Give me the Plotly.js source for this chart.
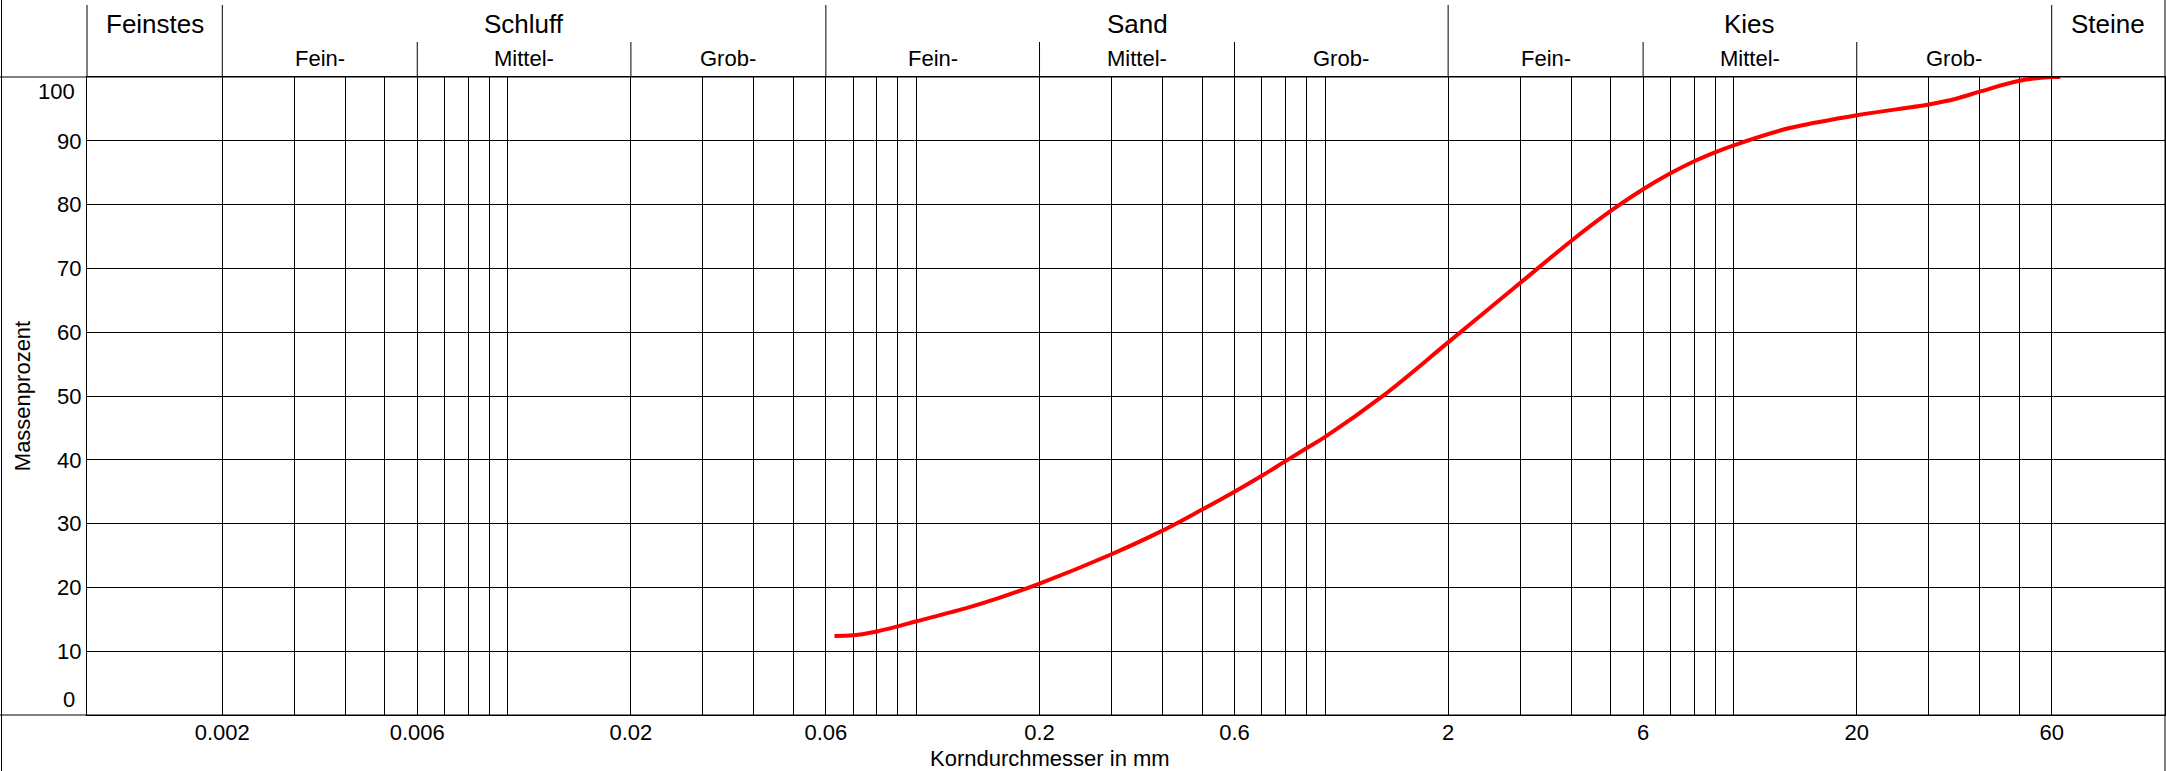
<!DOCTYPE html>
<html>
<head>
<meta charset="utf-8">
<script src="https://cdn.plot.ly/plotly-3.0.1.min.js"></script>
<style>
  html, body { margin: 0; padding: 0; background: #fff; }
  #chart { width: 2166px; height: 771px; }
</style>
</head>
<body>
<div id="chart"></div>
<script>
// ---- data ----
const grainSize = [0.063, 0.07, 0.08, 0.09, 0.1, 0.133, 0.16, 0.2, 0.3, 0.4, 0.5, 0.6, 0.7, 0.8, 0.9, 1.0, 1.39, 2, 3, 4, 5, 6, 7, 8, 9, 10, 13.7, 20, 30, 35, 40, 50, 60, 63];
const massPercent = [12.4, 12.5, 13.1, 13.9, 14.7, 16.8, 18.4, 20.6, 25.2, 28.9, 32.2, 35.0, 37.5, 39.8, 41.8, 43.6, 50.1, 58.4, 67.7, 74.3, 79.0, 82.4, 84.9, 86.8, 88.2, 89.3, 92.0, 94.0, 95.7, 96.6, 97.7, 99.4, 100, 100];

const xTickVals = [0.002, 0.006, 0.02, 0.06, 0.2, 0.6, 2, 6, 20, 60];
const xTickText = ['0.002', '0.006', '0.02', '0.06', '0.2', '0.6', '2', '6', '20', '60'];
const xMinorVals = [0.003, 0.004, 0.005, 0.007, 0.008, 0.009, 0.01,
                    0.03, 0.04, 0.05, 0.07, 0.08, 0.09, 0.1,
                    0.3, 0.4, 0.5, 0.7, 0.8, 0.9, 1,
                    3, 4, 5, 7, 8, 9, 10,
                    30, 40, 50];
const yTickVals = [10, 20, 30, 40, 50, 60, 70, 80, 90];
const yTickText = ['10', '20', '30', '40', '50', '60', '70', '80', '90'];
const yEndLabels = ['0', '100'];
const xTitle = 'Korndurchmesser in mm';
const yTitle = 'Massenprozent';

const mainClasses = ['Feinstes', 'Schluff', 'Sand', 'Kies', 'Steine'];
const mainBounds = [0.002, 0.06, 2, 60];
const subClasses = ['Fein-', 'Mittel-', 'Grob-'];
const subGroups = [[0.002, 0.006, 0.02, 0.06], [0.06, 0.2, 0.6, 2], [2, 6, 20, 60]];

// ---- layout helpers ----
const W = 2166, H = 771;
const M = {l: 87, r: 1, t: 77, b: 56};
const plotW = W - M.l - M.r, plotH = H - M.t - M.b;
const xRange = [-3.03009, 2.0554];
const FONT = 'Liberation Sans, Arial, sans-serif';
const py = px => 1 + (M.t - px) / plotH;          // header pixel y -> paper y
const pyb = px => -(px - (H - M.b)) / plotH;       // below-plot pixel y -> paper y
const pxp = px => (px - M.l) / plotW;             // pixel x -> paper x

const shapes = [];
const line = {color: '#000', width: 1};
// outer frame
shapes.push({type: 'line', xref: 'paper', yref: 'paper', x0: pxp(0), x1: 1, y0: 1, y1: 1, line});
shapes.push({type: 'line', xref: 'paper', yref: 'paper', x0: pxp(0), x1: 1, y0: 0, y1: 0, line});
shapes.push({type: 'line', xref: 'paper', yref: 'paper', x0: pxp(1.5), x1: pxp(1.5), y0: pyb(H), y1: py(0), line});
shapes.push({type: 'line', xref: 'paper', yref: 'paper', x0: 1, x1: 1, y0: pyb(H), y1: py(0), line});
shapes.push({type: 'line', xref: 'paper', yref: 'paper', x0: 0, x1: 0, y0: 1, y1: py(5), line});
// header separators
mainBounds.forEach(b => shapes.push({type: 'line', xref: 'x', yref: 'paper', x0: b, x1: b, y0: 1, y1: py(5), line}));
subGroups.forEach(g => g.slice(1, -1).forEach(b =>
  shapes.push({type: 'line', xref: 'x', yref: 'paper', x0: b, x1: b, y0: 1, y1: py(42), line})));

const annotations = [];
const lg = Math.log10;
const mainEdges = [xRange[0]].concat(mainBounds.map(lg)).concat([xRange[1]]);
mainClasses.forEach((name, i) => annotations.push({
  text: name, xref: 'x', yref: 'paper', x: (mainEdges[i] + mainEdges[i + 1]) / 2, y: py(24),
  xanchor: 'center', yanchor: 'middle', showarrow: false, font: {family: FONT, size: 26, color: '#000'}
}));
subGroups.forEach(g => subClasses.forEach((name, i) => annotations.push({
  text: name, xref: 'x', yref: 'paper', x: (lg(g[i]) + lg(g[i + 1])) / 2, y: py(58),
  xanchor: 'center', yanchor: 'middle', showarrow: false, font: {family: FONT, size: 22, color: '#000'}
})));
annotations.push({text: yEndLabels[0], xref: 'paper', yref: 'y', x: pxp(77), y: 0, yshift: 16,
  xanchor: 'right', yanchor: 'middle', showarrow: false, font: {family: FONT, size: 22, color: '#000'}});
annotations.push({text: yEndLabels[1], xref: 'paper', yref: 'y', x: pxp(77), y: 100, yshift: -14,
  xanchor: 'right', yanchor: 'middle', showarrow: false, font: {family: FONT, size: 22, color: '#000'}});
// x-axis title (placed as in the reference, left of the plot centre)
annotations.push({text: xTitle, xref: 'paper', yref: 'paper', x: pxp(1050), y: pyb(758),
  xanchor: 'center', yanchor: 'middle', showarrow: false, font: {family: FONT, size: 22, color: '#000'}});

const trace = {
  x: grainSize, y: massPercent, type: 'scatter', mode: 'lines',
  line: {color: '#ff0000', width: 4, shape: 'spline', smoothing: 1.0},
  hoverinfo: 'x+y'
};

const layout = {
  width: W, height: H, margin: M,
  paper_bgcolor: '#fff', plot_bgcolor: '#fff',
  showlegend: false,
  font: {family: FONT, size: 22, color: '#000'},
  xaxis: {
    type: 'log', range: xRange, fixedrange: true,
    tickmode: 'array', tickvals: xTickVals, ticktext: xTickText,
    showgrid: true, gridcolor: '#000', gridwidth: 1,
    minor: {tickmode: 'array', tickvals: xMinorVals, showgrid: true, gridcolor: '#000', gridwidth: 1, ticks: ''},
    ticks: '', showline: true, mirror: true, linecolor: '#000', linewidth: 1, zeroline: false,
    tickfont: {family: FONT, size: 22, color: '#000'},
    ticklabelstandoff: -2,
    automargin: false
  },
  yaxis: {
    range: [0, 100], fixedrange: true,
    tickmode: 'array', tickvals: yTickVals, ticktext: yTickText,
    showgrid: true, gridcolor: '#000', gridwidth: 1,
    ticks: '', showline: true, mirror: true, linecolor: '#000', linewidth: 1, zeroline: false,
    tickfont: {family: FONT, size: 22, color: '#000'},
    title: {text: yTitle, font: {family: FONT, size: 22, color: '#000'}, standoff: 20},
    automargin: false
  },
  shapes, annotations
};

Plotly.newPlot('chart', [trace], layout, {displayModeBar: false, staticPlot: true});
</script>
</body>
</html>
